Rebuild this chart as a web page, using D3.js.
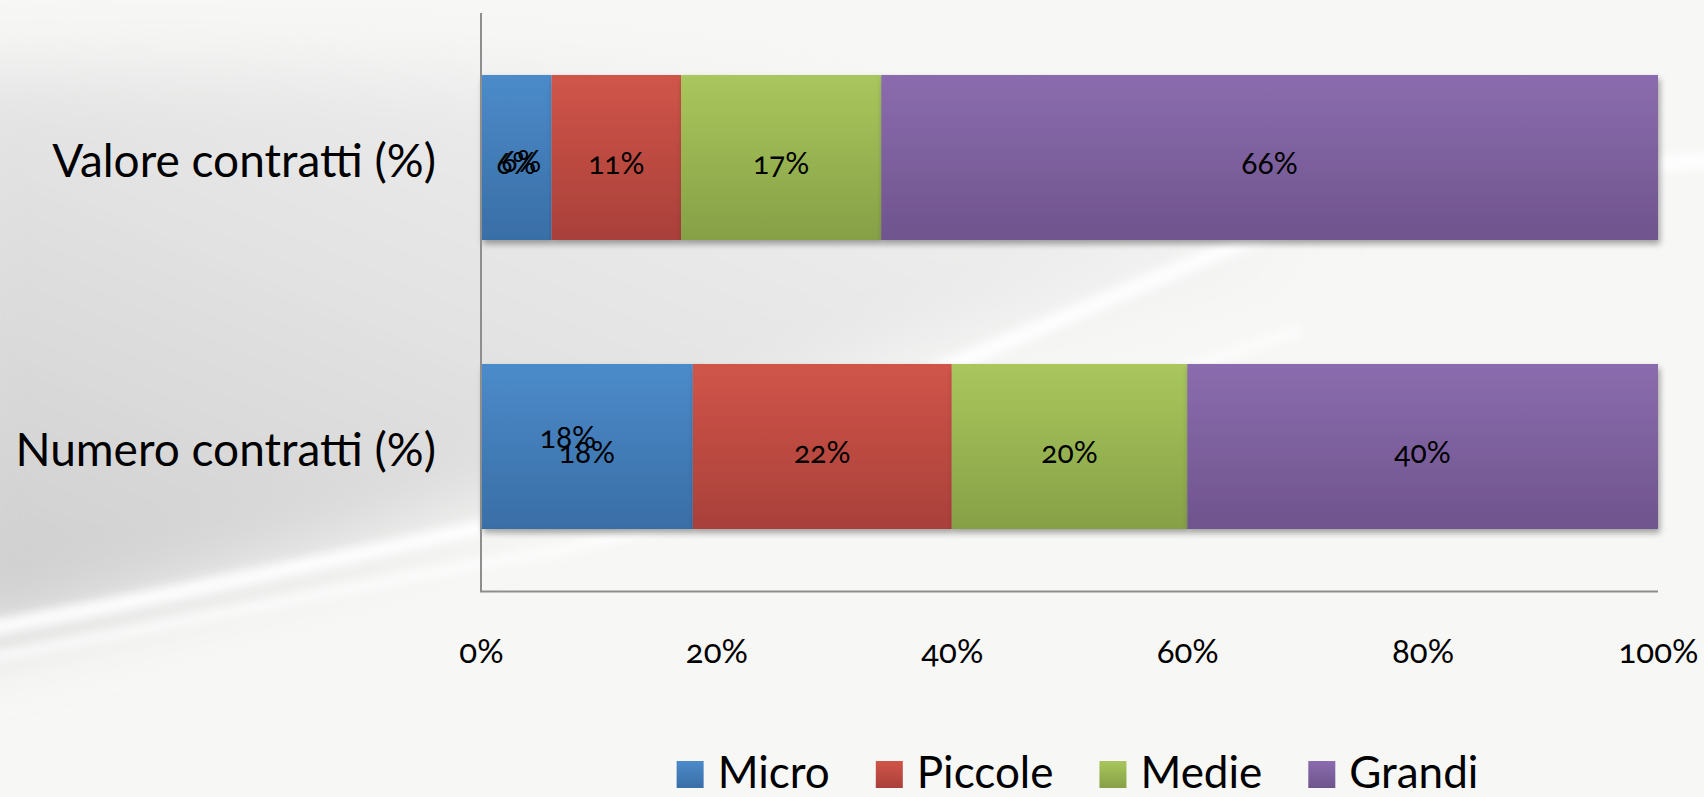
<!DOCTYPE html>
<html><head><meta charset="utf-8">
<script src="https://cdn.jsdelivr.net/npm/d3@7"></script>
<style>
html,body{margin:0;padding:0;overflow:hidden;background:#f6f6f6}
svg{display:block}
text{font-family:Lato,"Open Sans",sans-serif;font-variant-numeric:oldstyle-nums;font-feature-settings:"onum" 1;fill:#000}
</style></head><body>
<svg id="chart" width="1704" height="797"></svg>
<script>
// ---------- data ----------
const categories = ["Valore contratti (%)", "Numero contratti (%)"];
const seriesNames = ["Micro", "Piccole", "Medie", "Grandi"];
const micro   = [6, 18];
const piccole = [11, 22];
const medie   = [17, 20];
const grandi  = [66, 40];
const tickValues = [0, 20, 40, 60, 80, 100];
const tickLabels = ["0%", "20%", "40%", "60%", "80%", "100%"];
// the original prints the Micro label twice (overlapping)
const duplicateLabels = ["6%", "18%"];

// ---------- styles ----------
const colorTop = {Micro:"#4c8bca", Piccole:"#d05549", Medie:"#a9c75d", Grandi:"#8b6cae"};
const colorBot = {Micro:"#396ea6", Piccole:"#a9403a", Medie:"#86a046", Grandi:"#6e548d"};

const W = 1704, H = 797;
const svg = d3.select("#chart");
const defs = svg.append("defs");

// background
const bgG = defs.append("linearGradient").attr("id","bgLeft").attr("x1",0).attr("y1",1).attr("x2",1).attr("y2",0);
bgG.append("stop").attr("offset",0).attr("stop-color","#cbcbcb");
bgG.append("stop").attr("offset",0.45).attr("stop-color","#e2e2e2");
bgG.append("stop").attr("offset",1).attr("stop-color","#f6f6f6");
defs.append("filter").attr("id","blurBig").attr("x","-50%").attr("y","-50%").attr("width","200%").attr("height","200%")
  .append("feGaussianBlur").attr("stdDeviation",35);
defs.append("filter").attr("id","blurSmall").attr("x","-20%").attr("y","-50%").attr("width","140%").attr("height","200%")
  .append("feGaussianBlur").attr("stdDeviation",5);
const sh = defs.append("filter").attr("id","shadow").attr("x","-5%").attr("y","-20%").attr("width","110%").attr("height","150%");
sh.append("feDropShadow").attr("dx",2).attr("dy",4).attr("stdDeviation",3).attr("flood-color","#000").attr("flood-opacity",0.35);

svg.append("rect").attr("width",W).attr("height",H).attr("fill","#f7f7f6");
const bg = svg.append("g");
bg.append("path")
  .attr("d","M-60,70 C300,60 700,70 1000,150 C1150,200 1250,230 1300,250 C900,330 600,480 300,560 C150,600 40,625 -60,650 Z")
  .attr("fill","url(#bgLeft)").attr("filter","url(#blurBig)");
bg.append("path")
  .attr("d","M-20,630 C150,600 330,560 520,520 C800,440 1050,320 1250,240 C1400,190 1550,170 1720,160")
  .attr("fill","none").attr("stroke","#ffffff").attr("stroke-width",16).attr("opacity",0.9).attr("filter","url(#blurSmall)");
bg.append("path")
  .attr("d","M-20,660 C200,620 380,580 560,550 C800,500 1000,430 1300,330")
  .attr("fill","none").attr("stroke","#ffffff").attr("stroke-width",10).attr("opacity",0.7).attr("filter","url(#blurSmall)");

// gradients for bars
seriesNames.forEach(s => {
  const g = defs.append("linearGradient").attr("id","grad-"+s).attr("x1",0).attr("y1",0).attr("x2",0).attr("y2",1);
  g.append("stop").attr("offset",0).attr("stop-color",colorTop[s]);
  g.append("stop").attr("offset",1).attr("stop-color",colorBot[s]);
});

// ---------- scales ----------
const x = d3.scaleLinear().domain([0,100]).range([481,1658]);
const y = d3.scaleBand().domain(categories).range([13,591]).paddingInner(0.429).paddingOuter(0.2145);

const rows = categories.map((c,i) => ({cat:c, Micro:micro[i], Piccole:piccole[i], Medie:medie[i], Grandi:grandi[i]}));
const stacked = d3.stack().keys(seriesNames)(rows);

// bars
const barG = svg.append("g");
stacked.forEach(layer => {
  barG.append("g").attr("filter","url(#shadow)")
    .selectAll("rect").data(layer).join("rect")
    .attr("x", d => x(d[0]))
    .attr("y", d => y(d.data.cat))
    .attr("width", d => x(d[1]) - x(d[0]))
    .attr("height", y.bandwidth())
    .attr("fill", "url(#grad-"+layer.key+")");
});

// axes lines
const axisColor = "#8e8e8e";
svg.append("line").attr("x1",481).attr("x2",481).attr("y1",13).attr("y2",592).attr("stroke",axisColor).attr("stroke-width",2);
svg.append("line").attr("x1",480).attr("x2",1658).attr("y1",591.5).attr("y2",591.5).attr("stroke",axisColor).attr("stroke-width",2);

// x tick labels
const xAxis = d3.axisBottom(x).tickValues(tickValues).tickFormat((d,i) => tickLabels[i]).tickSize(0).tickPadding(0);
const xg = svg.append("g").attr("transform","translate(0,591)").call(xAxis);
xg.select(".domain").remove();
xg.selectAll("text").attr("y",72).attr("dy",null).attr("font-size",33).attr("font-family","Lato, sans-serif").attr("fill","#000");

// category labels
const yAxis = d3.axisLeft(y).tickSize(0).tickPadding(0);
const yg = svg.append("g").attr("transform","translate(436,0)").call(yAxis);
yg.select(".domain").remove();
yg.selectAll("text").attr("dy",null).attr("y",19).attr("font-size",46).attr("font-family","Lato, sans-serif").attr("fill","#000");

// data labels
const lblG = svg.append("g").attr("text-anchor","middle").attr("font-size",30);
stacked.forEach(layer => {
  lblG.selectAll(null).data(layer).join("text")
    .attr("x", d => (x(d[0]) + x(d[1]))/2)
    .attr("y", d => y(d.data.cat) + y.bandwidth()/2 + 16)
    .text(d => (d[1]-d[0]) + "%");
});
const dupOffsets = [[5,-2],[-19,-15]];
lblG.selectAll(null).data(stacked[0]).join("text")
  .attr("x", (d,i) => (x(d[0]) + x(d[1]))/2 + dupOffsets[i][0])
  .attr("y", (d,i) => y(d.data.cat) + y.bandwidth()/2 + 16 + dupOffsets[i][1])
  .text((d,i) => duplicateLabels[i]);

// legend
const leg = svg.append("g");
const items = leg.selectAll("g").data(seriesNames).join("g");
items.append("rect").attr("width",27).attr("height",27).attr("y",761).attr("fill",d => "url(#grad-"+d+")");
items.append("text").attr("x",41).attr("y",788).attr("font-size",44).text(d => d);
let cx = 0;
const pos = [];
items.each(function(d){
  const tw = d3.select(this).select("text").node().getComputedTextLength();
  pos.push(cx);
  cx += 41 + tw + 46;
});
const total = cx - 46;
const startX = 1077.5 - total/2;
items.attr("transform",(d,i) => `translate(${startX + pos[i]},0)`);
</script>
</body></html>
